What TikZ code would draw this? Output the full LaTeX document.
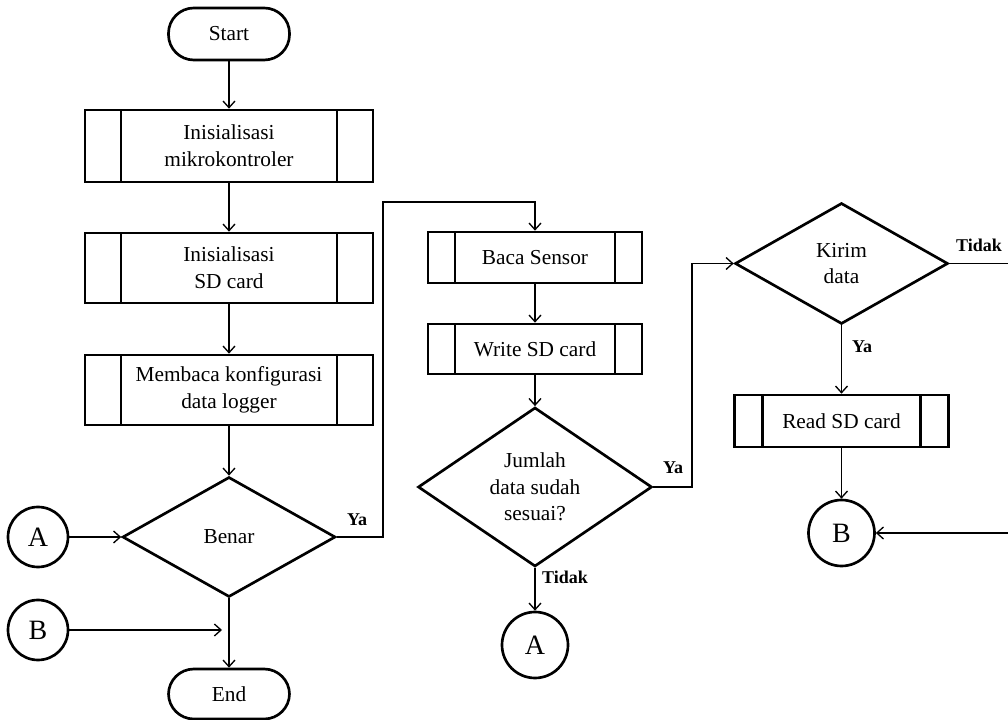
\documentclass[tikz,border=0pt]{standalone}
\usepackage{fontspec}
\setmainfont{Liberation Serif}
\usetikzlibrary{shapes.geometric,arrows.meta}

\begin{document}
\begin{tikzpicture}[x=0.75pt,y=-0.75pt,
  >={Straight Barb[length=5pt,width=9pt]},
  every node/.style={inner sep=0pt,align=center,font=\fontsize{16}{20}\selectfont},
  term/.style={draw,line width=2pt,rounded corners=19pt,minimum width=90.75pt,minimum height=39pt},
  predproc/.style={draw,line width=2pt,path picture={
    \draw[line width=2pt] ([xshift=#1]path picture bounding box.north west) -- ([xshift=#1]path picture bounding box.south west)
      ([xshift=-#1]path picture bounding box.north east) -- ([xshift=-#1]path picture bounding box.south east);}},
  decision/.style={draw,diamond,line width=2pt},
  conn/.style={draw,circle,line width=2pt,font=\fontsize{21}{24}\selectfont},
  flow/.style={->,line width=1pt},
  lbl/.style={font=\fontsize{13.5}{16}\selectfont\bfseries}]
\useasboundingbox (0,0) rectangle (1008,720);

\node[term] (start) at (229,34) {Start};
\node[predproc=27pt,minimum width=216pt,minimum height=54pt] (mcu) at (229,146) {Inisialisasi\\mikrokontroler};
\node[predproc=27pt,minimum width=216pt,minimum height=52.5pt] (sdinit) at (229,268) {Inisialisasi\\SD card};
\node[predproc=27pt,minimum width=216pt,minimum height=52.5pt] (config) at (229,390) {Membaca konfigurasi\\data logger};
\node[decision,minimum width=159.75pt,minimum height=90pt] (benar) at (229,537) {Benar};
\node[conn,minimum size=45pt] (inA) at (38,537) {A};
\node[conn,minimum size=45pt] (inB) at (38,630) {B};
\node[term,minimum height=37.5pt] (end) at (229,694) {End};
\coordinate (bjoin) at (222,630);

\node[predproc=20.25pt,minimum width=160.5pt,minimum height=38.25pt] (sensor) at (535,257.5) {Baca Sensor};
\node[predproc=20.25pt,minimum width=160.5pt,minimum height=37.5pt] (write) at (535,349) {Write SD card};
\node[decision,minimum width=175.5pt,minimum height=106.5pt] (jumlah) at (535,487) {Jumlah\\data sudah\\sesuai?};
\node[conn,minimum size=49.5pt] (outA) at (535,645) {A};

\node[decision,minimum width=159.75pt,minimum height=90.75pt] (kirim) at (841.5,263.5) {Kirim\\data};
\node[predproc=21pt,minimum width=160.5pt,minimum height=39pt] (read) at (841.5,421) {Read SD card};
\node[conn,minimum size=49.5pt] (outB) at (841.5,533) {B};
\coordinate (ya2) at (692,263.5);
\coordinate (rgt) at (1012,263.5);

\draw[flow] (start) -- (mcu);
\draw[flow] (mcu) -- (sdinit);
\draw[flow] (sdinit) -- (config);
\draw[flow] (config) -- (benar);
\draw[flow] (inA) -- (benar.west);
\draw[flow] (benar) -- (end);
\draw[flow] (inB) -- (bjoin);
\draw[flow] (benar.east) -| (383,202) -| (sensor.north);
\draw[flow] (sensor) -- (write);
\draw[flow] (write) -- (jumlah);
\draw[flow] (jumlah) -- (outA);
\draw[flow] (jumlah.east) -| (ya2) -- (kirim.west);
\draw[flow] (kirim) -- (read);
\draw[flow] (read) -- (outB);
\draw[flow] (kirim.east) -- (rgt) |- (outB.east);

\node[lbl] (ya1) at (357,520) {Ya};
\node[lbl] (tidak1) at (565,577) {Tidak};
\node[lbl] (ya3) at (673,468) {Ya};
\node[lbl] (tidak2) at (979,245) {Tidak};
\node[lbl] (ya4) at (862,347) {Ya};
\end{tikzpicture}
\end{document}
